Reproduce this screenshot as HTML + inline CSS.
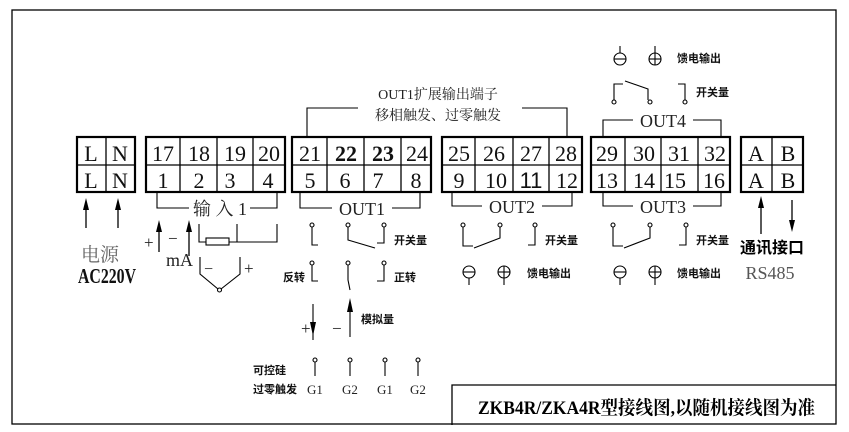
<!DOCTYPE html>
<html><head><meta charset="utf-8"><style>
html,body{margin:0;padding:0;background:#fff}
svg{display:block}
.n{font-family:"Liberation Serif",serif;font-size:22px;fill:#111}
.b{font-family:"Liberation Sans","Noto Sans CJK SC",sans-serif;font-weight:bold;font-size:11px;fill:#111}
.s{font-family:"Liberation Serif","Noto Serif CJK SC",serif;fill:#222}
</style></head><body>
<svg width="849" height="432" viewBox="0 0 849 432" xmlns="http://www.w3.org/2000/svg">
<g fill="none" stroke="#000" stroke-width="1.3">
<rect x="12" y="10" width="824" height="414"/>
<polyline points="452,425 452,385 836,385"/>
</g>
<g fill="none" stroke="#000" stroke-width="2.2">
<rect x="77" y="137" width="58" height="55"/>
<rect x="146" y="137" width="139" height="55"/>
<rect x="292" y="137" width="139" height="55"/>
<rect x="442" y="137" width="140" height="55"/>
<rect x="591" y="137" width="139" height="55"/>
<rect x="741" y="137" width="62" height="55"/>
</g>
<g stroke="#000" stroke-width="1.3">
<line x1="77" y1="165" x2="135" y2="165"/><line x1="106" y1="137" x2="106" y2="192"/>
<line x1="146" y1="165" x2="285" y2="165"/><line x1="180" y1="137" x2="180" y2="192"/><line x1="217" y1="137" x2="217" y2="192"/><line x1="253" y1="137" x2="253" y2="192"/>
<line x1="292" y1="165" x2="431" y2="165"/><line x1="327" y1="137" x2="327" y2="192"/><line x1="364" y1="137" x2="364" y2="192"/><line x1="401" y1="137" x2="401" y2="192"/>
<line x1="442" y1="165" x2="582" y2="165"/><line x1="475" y1="137" x2="475" y2="192"/><line x1="513" y1="137" x2="513" y2="192"/><line x1="549" y1="137" x2="549" y2="192"/>
<line x1="591" y1="165" x2="730" y2="165"/><line x1="625" y1="137" x2="625" y2="192"/><line x1="661" y1="137" x2="661" y2="192"/><line x1="698" y1="137" x2="698" y2="192"/>
<line x1="741" y1="165" x2="803" y2="165"/><line x1="772" y1="137" x2="772" y2="192"/>
</g>
<g class="n" text-anchor="middle">
<text x="91" y="161">L</text><text x="120" y="161">N</text><text x="91" y="188">L</text><text x="120" y="188">N</text>
<text x="163" y="161">17</text><text x="199" y="161">18</text><text x="235" y="161">19</text><text x="269" y="161">20</text>
<text x="163" y="188">1</text><text x="199" y="188">2</text><text x="230" y="188">3</text><text x="268" y="188">4</text>
<text x="310" y="161">21</text><text x="346" y="161" font-weight="bold">22</text><text x="383" y="161" font-weight="bold">23</text><text x="417" y="161">24</text>
<text x="310" y="188">5</text><text x="345" y="188">6</text><text x="378" y="188">7</text><text x="416" y="188">8</text>
<text x="459" y="161">25</text><text x="494" y="161">26</text><text x="531" y="161">27</text><text x="566" y="161">28</text>
<text x="459" y="188">9</text><text x="496" y="188">10</text><text x="531" y="188" font-family="Liberation Sans">11</text><text x="567" y="188">12</text>
<text x="607" y="161">29</text><text x="644" y="161">30</text><text x="679" y="161">31</text><text x="715" y="161">32</text>
<text x="607" y="188">13</text><text x="644" y="188">14</text><text x="675" y="188">15</text><text x="714" y="188">16</text>
<text x="756" y="161">A</text><text x="788" y="161">B</text><text x="756" y="188">A</text><text x="788" y="188">B</text>
</g>
<g fill="none" stroke="#000" stroke-width="1.1">
<polyline points="157,192 157,208 189,208"/><polyline points="250,208 277,208 277,192"/>
<polyline points="300,192 300,208 332,208"/><polyline points="392,208 420,208 420,192"/>
<polyline points="452,192 452,206 482,206"/><polyline points="542,206 572,206 572,192"/>
<polyline points="603,192 603,206 633,206"/><polyline points="693,206 721,206 721,192"/>
<polyline points="603,137 603,120 633,120"/><polyline points="693,120 721,120 721,137"/>
<polyline points="307,137 307,108 358,108"/><polyline points="522,108 567,108 567,137"/>
</g>
<g class="s" font-size="18" text-anchor="middle">
<text x="220" y="215">输 入 1</text>
<text x="362" y="215">OUT1</text><text x="512" y="213">OUT2</text><text x="663" y="213">OUT3</text><text x="663" y="127">OUT4</text>
</g>
<g class="s" font-size="14" text-anchor="middle">
<text x="438" y="99">OUT1扩展输出端子</text><text x="438" y="120">移相触发、过零触发</text>
</g>
<g stroke="#000" stroke-width="1.3">
<line x1="86" y1="228" x2="86" y2="205"/><line x1="118" y1="228" x2="118" y2="205"/>
<line x1="761" y1="234" x2="761" y2="205"/><line x1="792" y1="200" x2="792" y2="226"/>
<line x1="159" y1="252" x2="159" y2="226"/><line x1="189" y1="256" x2="189" y2="226"/>
</g>
<g fill="#000">
<polygon points="86,198 83,210 89,210"/><polygon points="118,198 115,210 121,210"/>
<polygon points="761,196 758,208 764,208"/><polygon points="792,232 789,220 795,220"/>
<polygon points="159,220 156,232 162,232"/><polygon points="189,220 186,232 192,232"/>
</g>
<text x="100" y="261" class="s" font-size="19" text-anchor="middle" style="fill:#666">电源</text>
<text x="78" y="283" font-family="Liberation Serif" font-weight="bold" font-size="21" fill="#111" textLength="58" lengthAdjust="spacingAndGlyphs">AC220V</text>
<text x="772" y="253" font-family="Liberation Sans,Noto Sans CJK SC,sans-serif" font-weight="bold" font-size="16" text-anchor="middle">通讯接口</text>
<text x="770" y="279" class="s" font-size="18" text-anchor="middle" style="fill:#555">RS485</text>
<g class="s" font-size="17"><text x="144" y="248">+</text><text x="168" y="244">−</text><text x="166" y="266" font-size="18">mA</text><text x="204" y="274" font-size="16">−</text><text x="244" y="274">+</text></g>
<g fill="none" stroke="#000" stroke-width="1.1">
<polyline points="199,224 199,242 206,242"/><rect x="206" y="238" width="23" height="7"/><polyline points="229,242 277,242 277,224"/><line x1="237" y1="224" x2="237" y2="242"/>
<polyline points="200,257 200,274 218,289"/><polyline points="240,257 240,274 221,289"/><circle cx="219.5" cy="290" r="2"/>
<circle cx="312" cy="225" r="2"/><circle cx="348" cy="225" r="2"/><circle cx="384" cy="225" r="2"/>
<polyline points="312,227 312,245 318,245"/><polyline points="348,227 348,240 375,248"/><polyline points="384,227 384,243 377,243"/>
<circle cx="312" cy="263" r="2"/><circle cx="348" cy="263" r="2"/><circle cx="384" cy="263" r="2"/>
<polyline points="312,265 312,281 318,281"/><polyline points="348,265 348,280 350,290"/><polyline points="384,265 384,281 377,281"/>
<line x1="313" y1="304" x2="313" y2="340"/><line x1="350" y1="306" x2="350" y2="337"/>
<circle cx="315" cy="360" r="2"/><circle cx="350" cy="360" r="2"/><circle cx="385" cy="360" r="2"/><circle cx="418" cy="360" r="2"/>
<line x1="315" y1="362" x2="315" y2="376"/><line x1="350" y1="362" x2="350" y2="376"/><line x1="385" y1="362" x2="385" y2="376"/><line x1="418" y1="362" x2="418" y2="376"/>
<circle cx="463" cy="225" r="2"/><circle cx="500" cy="225" r="2"/><circle cx="535" cy="225" r="2"/>
<polyline points="463,227 463,246 473,246"/><polyline points="500,227 500,238 474,248"/><polyline points="535,227 535,245 528,245"/>
<circle cx="469" cy="272" r="6"/><line x1="463" y1="272" x2="475" y2="272"/><line x1="469" y1="278" x2="469" y2="285"/>
<circle cx="504" cy="272" r="6"/><line x1="498" y1="272" x2="510" y2="272"/><line x1="504" y1="266" x2="504" y2="285"/>
<circle cx="613" cy="225" r="2"/><circle cx="650" cy="225" r="2"/><circle cx="686" cy="225" r="2"/>
<polyline points="613,227 613,246 623,246"/><polyline points="650,227 650,238 624,248"/><polyline points="686,227 686,245 679,245"/>
<circle cx="620" cy="272" r="6"/><line x1="614" y1="272" x2="626" y2="272"/><line x1="620" y1="278" x2="620" y2="285"/>
<circle cx="655" cy="272" r="6"/><line x1="649" y1="272" x2="661" y2="272"/><line x1="655" y1="266" x2="655" y2="285"/>
<circle cx="614" cy="102" r="2"/><circle cx="650" cy="102" r="2"/><circle cx="685" cy="102" r="2"/>
<polyline points="614,100 614,84 623,84"/><polyline points="625,81 648,89 648,100"/><polyline points="685,100 685,84 678,84"/>
<circle cx="620" cy="59" r="6"/><line x1="614" y1="59" x2="626" y2="59"/><line x1="620" y1="46" x2="620" y2="53"/>
<circle cx="655" cy="59" r="6"/><line x1="649" y1="59" x2="661" y2="59"/><line x1="655" y1="46" x2="655" y2="65"/>
</g>
<g fill="#000"><polygon points="313,336 310,322 316,322"/><polygon points="350,298 347,312 353,312"/></g>
<g class="s" font-size="17"><text x="301" y="334">+</text><text x="332" y="334">−</text></g>
<g class="b">
<text x="394" y="244">开关量</text><text x="545" y="244">开关量</text><text x="696" y="244">开关量</text><text x="696" y="96">开关量</text>
<text x="283" y="281">反转</text><text x="394" y="281">正转</text><text x="361" y="323">模拟量</text>
<text x="527" y="277">馈电输出</text><text x="677" y="277">馈电输出</text><text x="677" y="62">馈电输出</text>
<text x="253" y="374">可控硅</text><text x="253" y="393">过零触发</text>
</g>
<g class="s" font-size="13" text-anchor="middle"><text x="315" y="394">G1</text><text x="350" y="394">G2</text><text x="385" y="394">G1</text><text x="418" y="394">G2</text></g>
<text x="478" y="414" font-family="Liberation Serif,Noto Serif CJK SC,serif" font-weight="bold" font-size="19" fill="#000" textLength="337" lengthAdjust="spacingAndGlyphs">ZKB4R/ZKA4R型接线图,以随机接线图为准</text>
</svg>
</body></html>
